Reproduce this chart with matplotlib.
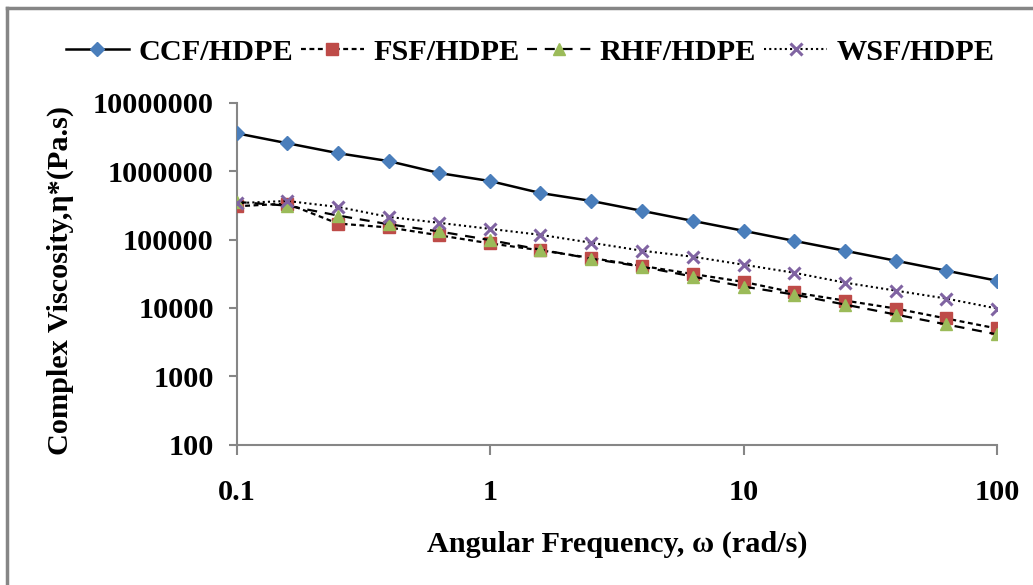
import matplotlib
matplotlib.use('Agg')
import matplotlib.pyplot as plt
from matplotlib.lines import Line2D

# angular frequency (rad/s)
freq = [0.1, 0.158, 0.251, 0.398, 0.631, 1.0, 1.58, 2.51, 3.98, 6.31,
        10.0, 15.8, 25.1, 39.8, 63.1, 100.0]

# complex viscosity (Pa.s)
ccf = [3.57e6, 2.56e6, 1.83e6, 1.40e6, 9.35e5, 7.15e5, 4.78e5, 3.66e5,
       2.62e5, 1.87e5, 1.34e5, 9.57e4, 6.85e4, 4.90e4, 3.50e4, 2.50e4]
fsf = [3.06e5, 3.35e5, 1.71e5, 1.50e5, 1.15e5, 8.77e4, 6.95e4, 5.36e4,
       4.10e4, 3.13e4, 2.40e4, 1.68e4, 1.28e4, 9.80e3, 7.00e3, 5.00e3]
rhf = [3.54e5, 3.13e5, 2.24e5, 1.67e5, 1.31e5, 9.80e4, 7.10e4, 5.24e4,
       4.00e4, 2.87e4, 2.05e4, 1.57e4, 1.12e4, 8.00e3, 5.73e3, 4.10e3]
wsf = [3.40e5, 3.66e5, 2.99e5, 2.14e5, 1.75e5, 1.43e5, 1.17e5, 8.96e4,
       6.85e4, 5.60e4, 4.28e4, 3.27e4, 2.34e4, 1.79e4, 1.37e4, 9.80e3]

labels = ['CCF/HDPE', 'FSF/HDPE', 'RHF/HDPE', 'WSF/HDPE']
xticks = [0.1, 1, 10, 100]
xticklabels = ['0.1', '1', '10', '100']
yticks = [100, 1000, 10000, 100000, 1000000, 10000000]
yticklabels = ['100', '1000', '10000', '100000', '1000000', '10000000']

plt.rcParams['font.family'] = ['Liberation Serif', 'DejaVu Serif']
plt.rcParams['font.weight'] = 'bold'
FS = 21.8

W, H = 1033, 585
fig = plt.figure(figsize=(W / 100.0, H / 100.0), dpi=100)
ax = fig.add_axes([236.7 / W, 1 - 444.7 / H, (997 - 236.7) / W, (444.7 - 102.7) / H])

gray = '#868686'
ax.plot(freq, ccf, color='black', lw=1.8, ls='-', marker='D', ms=7.5,
        mfc='#4a7ebb', mec='#4a7ebb', label=labels[0], zorder=3)
ax.plot(freq, fsf, color='black', lw=1.6, ls=(0, (2.2, 1.6)), marker='s', ms=8,
        mfc='#be4b48', mec='#be4b48', label=labels[1], zorder=3)
ax.plot(freq, rhf, color='black', lw=1.6, ls=(0, (4.5, 3.5)), marker='^', ms=9,
        mfc='#9bbb59', mec='#9bbb59', label=labels[2], zorder=3)
ax.plot(freq, wsf, color='black', lw=1.5, ls=(0, (1, 1.5)), marker='x', ms=8.5,
        mew=2.2, mfc='#8064a2', mec='#8064a2', label=labels[3], zorder=3)

ax.set_xscale('log')
ax.set_yscale('log')
ax.set_xlim(0.1, 100)
ax.set_ylim(100, 1e7)
ax.set_xticks(xticks)
ax.set_xticklabels(xticklabels)
ax.set_yticks(yticks)
ax.set_yticklabels(yticklabels)
ax.minorticks_off()

for side in ['top', 'right']:
    ax.spines[side].set_visible(False)
for side in ['left', 'bottom']:
    ax.spines[side].set_color(gray)
    ax.spines[side].set_linewidth(1.5)

ax.tick_params(axis='x', direction='out', length=7, width=1.5, color=gray,
               pad=18, labelsize=FS)
ax.tick_params(axis='y', direction='out', length=5.5, width=1.5, color=gray,
               pad=11, labelsize=FS)
for t in ax.get_xticklabels() + ax.get_yticklabels():
    t.set_fontweight('bold')

fig.text(617 / W, 1 - 544 / H, 'Angular Frequency, \u03c9 (rad/s)',
         ha='center', va='center', fontsize=FS, fontweight='bold')
fig.text(60 / W, 1 - 280 / H, 'Complex Viscosity,\u03b7*(Pa.s)', rotation=90,
         ha='center', va='center', fontsize=FS, fontweight='bold')

fig.legend(loc='center', bbox_to_anchor=(530 / W, 1 - 52 / H), ncol=4,
           frameon=False, handlelength=2.1, handletextpad=0.3,
           columnspacing=0.25, prop={'weight': 'bold', 'size': FS})

# chart area border (top and left edges visible)
fig.add_artist(Line2D([7 / W, 7 / W], [0, 1 - 8 / H], color=gray, lw=2.5,
                      transform=fig.transFigure))
fig.add_artist(Line2D([7 / W, 1], [1 - 8 / H, 1 - 8 / H], color=gray, lw=2.5,
                      transform=fig.transFigure))

fig.savefig('out.png', dpi=100)
